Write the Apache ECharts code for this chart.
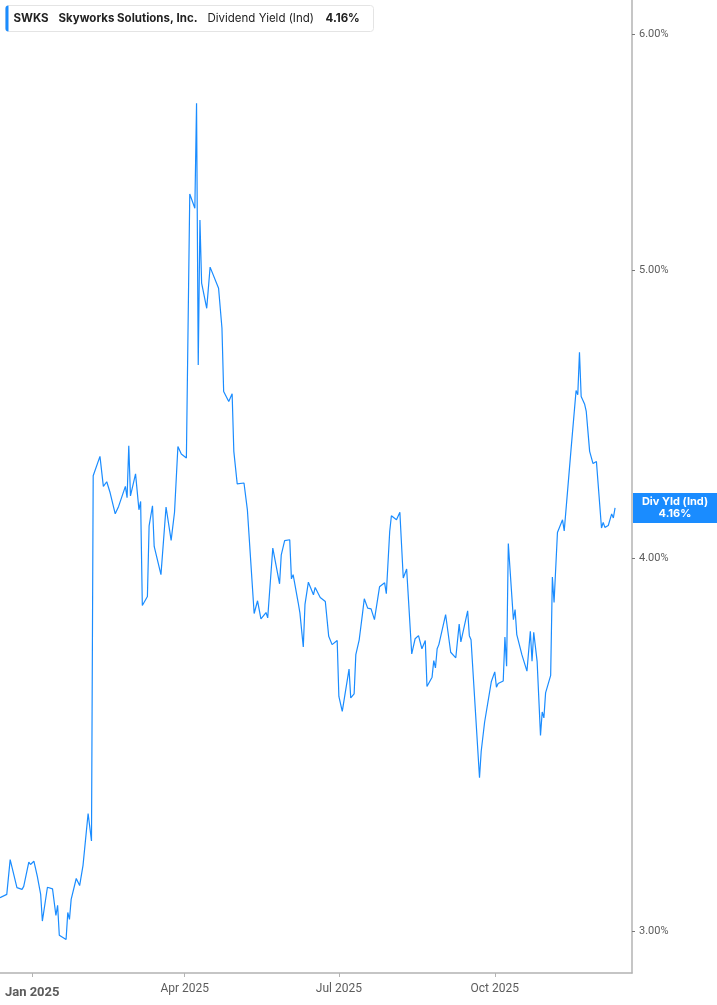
<!DOCTYPE html>
<html>
<head>
<meta charset="utf-8">
<script src="https://cdn.jsdelivr.net/npm/echarts@6/dist/echarts.min.js"></script>
<style>
  html, body { margin: 0; padding: 0; background: #fff; }
  #chart { width: 717px; height: 1005px; }
</style>
</head>
<body>
<div id="chart"></div>
<script>
// SWKS 股息率 (Ind) 数据
const dates = [
  '2024-12-13','2024-12-17','2024-12-19','2024-12-23','2024-12-26','2024-12-27','2024-12-30','2024-12-31',
  '2025-01-02','2025-01-04','2025-01-06','2025-01-07','2025-01-08','2025-01-10','2025-01-13','2025-01-15',
  '2025-01-16','2025-01-17','2025-01-21','2025-01-22','2025-01-23','2025-01-24','2025-01-27','2025-01-29',
  '2025-01-31','2025-02-03','2025-02-05','2025-02-06','2025-02-07','2025-02-10','2025-02-12','2025-02-14',
  '2025-02-16','2025-02-19','2025-02-21','2025-02-25','2025-02-26','2025-02-27','2025-02-28','2025-03-03',
  '2025-03-05','2025-03-06','2025-03-07','2025-03-10','2025-03-11','2025-03-13','2025-03-14','2025-03-18',
  '2025-03-21','2025-03-24','2025-03-26','2025-03-28','2025-03-30','2025-04-02','2025-04-04','2025-04-07',
  '2025-04-08','2025-04-09','2025-04-10','2025-04-11','2025-04-14','2025-04-16','2025-04-21','2025-04-23',
  '2025-04-24','2025-04-27','2025-04-29','2025-04-30','2025-05-02','2025-05-06','2025-05-08','2025-05-12',
  '2025-05-14','2025-05-16','2025-05-19','2025-05-20','2025-05-23','2025-05-27','2025-05-28','2025-05-30',
  '2025-06-02','2025-06-03','2025-06-04','2025-06-07','2025-06-08','2025-06-10','2025-06-11','2025-06-13',
  '2025-06-16','2025-06-17','2025-06-20','2025-06-23','2025-06-25','2025-06-27','2025-06-30','2025-07-01',
  '2025-07-03','2025-07-07','2025-07-08','2025-07-10','2025-07-11','2025-07-13','2025-07-15','2025-07-16',
  '2025-07-18','2025-07-20','2025-07-22','2025-07-25','2025-07-28','2025-07-29','2025-07-31','2025-08-01',
  '2025-08-04','2025-08-06','2025-08-08','2025-08-10','2025-08-13','2025-08-15','2025-08-17','2025-08-19',
  '2025-08-21','2025-08-22','2025-08-25','2025-08-26','2025-08-27','2025-08-28','2025-08-29','2025-09-02',
  '2025-09-05','2025-09-08','2025-09-10','2025-09-11','2025-09-15','2025-09-16','2025-09-17','2025-09-22',
  '2025-09-23','2025-09-25','2025-09-26','2025-09-29','2025-09-30','2025-10-01','2025-10-02','2025-10-03',
  '2025-10-06','2025-10-07','2025-10-08','2025-10-09','2025-10-12','2025-10-13','2025-10-14','2025-10-17',
  '2025-10-20','2025-10-22','2025-10-23','2025-10-24','2025-10-26','2025-10-28','2025-10-29','2025-10-30',
  '2025-10-31','2025-11-03','2025-11-04','2025-11-05','2025-11-07','2025-11-10','2025-11-11','2025-11-15',
  '2025-11-18','2025-11-19','2025-11-20','2025-11-21','2025-11-23','2025-11-24','2025-11-26','2025-11-28',
  '2025-11-30','2025-12-03','2025-12-04','2025-12-05','2025-12-07','2025-12-09','2025-12-10','2025-12-11'
];

const yields = [
  3.078, 3.086, 3.170, 3.102, 3.098, 3.105, 3.164, 3.158,
  3.166, 3.130, 3.086, 3.023, 3.023, 3.103, 3.099, 3.036,
  3.060, 2.990, 2.980, 3.043, 3.027, 3.074, 3.124, 3.107,
  3.156, 3.285, 3.216, 4.265, 4.263, 4.329, 4.230, 4.245,
  4.209, 4.141, 4.165, 4.230, 4.193, 4.365, 4.199, 4.271,
  4.154, 4.181, 3.858, 3.885, 4.103, 4.167, 4.038, 3.951,
  4.163, 4.057, 4.146, 4.362, 4.337, 4.324, 5.302, 5.244,
  5.687, 4.646, 5.197, 4.949, 4.854, 5.011, 4.930, 4.780,
  4.552, 4.517, 4.544, 4.346, 4.238, 4.241, 4.154, 3.834,
  3.872, 3.818, 3.837, 3.821, 4.033, 3.923, 4.012, 4.056,
  4.059, 3.938, 3.951, 3.866, 3.836, 3.736, 3.861, 3.928,
  3.890, 3.912, 3.882, 3.870, 3.767, 3.743, 3.755, 3.596,
  3.555, 3.673, 3.592, 3.603, 3.714, 3.757, 3.836, 3.878,
  3.850, 3.848, 3.816, 3.914, 3.926, 3.893, 4.085, 4.135,
  4.122, 4.146, 3.941, 3.968, 3.716, 3.760, 3.769, 3.731,
  3.755, 3.624, 3.650, 3.697, 3.676, 3.731, 3.743, 3.831,
  3.721, 3.705, 3.803, 3.751, 3.842, 3.769, 3.757, 3.377,
  3.447, 3.525, 3.523, 3.638, 3.643, 3.665, 3.622, 3.632,
  3.639, 3.765, 3.681, 4.047, 3.816, 3.846, 3.772, 3.714,
  3.667, 3.782, 3.695, 3.779, 3.695, 3.489, 3.553, 3.537,
  3.606, 3.655, 3.944, 3.867, 4.082, 4.122, 4.087, 4.351,
  4.555, 4.540, 4.692, 4.534, 4.508, 4.482, 4.346, 4.305,
  4.312, 4.096, 4.114, 4.098, 4.104, 4.141, 4.128, 4.160
];

// 坐标轴刻度
const xTickDates = ['2025-01-01', '2025-04-01', '2025-07-01', '2025-10-01'];
const yTickValues = [3, 4, 5, 6];
const monthNames = ['Jan','Feb','Mar','Apr','May','Jun','Jul','Aug','Sep','Oct','Nov','Dec'];

const lineColor = '#1a8cff';
const axisColor = '#b3b3b3';
const labelColor = '#5c5c5c';
const lastValue = yields[yields.length - 1];

// 日期转时间戳 (UTC)
function toTime(s) {
    const p = s.split('-');
    return Date.UTC(+p[0], +p[1] - 1, +p[2]);
}

const xTickTimes = xTickDates.map(toTime);

const chart = echarts.init(document.getElementById('chart'), null, { renderer: 'canvas' });

const option = {
    animation: false,
    grid: { left: 0, right: 85, top: 0, bottom: 32, containLabel: false },
    xAxis: {
        type: 'value',
        min: toTime('2024-12-13'),
        max: toTime('2025-12-21'),
        axisLine: { show: true, onZero: false, lineStyle: { color: axisColor, width: 1.5 } },
        axisTick: { show: true, customValues: xTickTimes, length: 4, lineStyle: { color: axisColor, width: 1 } },
        splitLine: { show: false },
        axisLabel: {
            customValues: xTickTimes,
            margin: 10,
            color: labelColor,
            fontFamily: 'Roboto',
            fontSize: 12,
            formatter: function (value) {
                const d = new Date(value);
                const txt = monthNames[d.getUTCMonth()] + ' ' + d.getUTCFullYear();
                return d.getUTCMonth() === 0 ? '{b|' + txt + '}' : txt;
            },
            rich: {
                b: { fontWeight: 'bold', fontSize: 13, color: labelColor, fontFamily: 'Roboto', padding: [3, 0, 0, 0] }
            }
        }
    },
    yAxis: {
        type: 'log',
        logBase: 10,
        position: 'right',
        min: 2.904,
        max: 6.16,
        axisLine: { show: true, lineStyle: { color: axisColor, width: 1.5 } },
        axisTick: { show: true, customValues: yTickValues, length: 3, lineStyle: { color: '#777' } },
        splitLine: { show: false },
        axisLabel: {
            customValues: yTickValues,
            margin: 7,
            color: labelColor,
            fontFamily: 'Roboto',
            fontSize: 11,
            formatter: v => Number(v).toFixed(2) + '%'
        }
    },
    series: [{
        type: 'line',
        showSymbol: false,
        symbol: 'none',
        data: dates.map((d, i) => [toTime(d), yields[i]]),
        lineStyle: { color: lineColor, width: 1.2 },
        itemStyle: { color: lineColor }
    }]
};

chart.setOption(option);

// 右侧数值标签 + 左上角图例
const lastY = chart.convertToPixel({ yAxisIndex: 0 }, lastValue);

const legendBold = { fontFamily: 'Inter', fontWeight: 'bold', fontSize: 11.5, fill: '#222', verticalAlign: 'middle' };
const legendNormal = { fontFamily: 'Inter', fontSize: 11.5, fill: '#222', verticalAlign: 'middle' };

chart.setOption({
    graphic: [
        {
            type: 'group',
            left: 5,
            top: 5,
            children: [
                { type: 'rect', shape: { x: 0, y: 0, width: 368, height: 26, r: 3 },
                  style: { fill: '#fff', stroke: '#e4e4e4', lineWidth: 1 } },
                { type: 'rect', shape: { x: 0, y: 0, width: 3, height: 26, r: [3, 0, 0, 3] },
                  style: { fill: lineColor } },
                { type: 'text', x: 8, y: 13, style: Object.assign({ text: 'SWKS' }, legendBold) },
                { type: 'text', x: 53, y: 13, style: Object.assign({ text: 'Skyworks Solutions, Inc.' }, legendBold) },
                { type: 'text', x: 202, y: 13, style: Object.assign({ text: 'Dividend Yield (Ind)' }, legendNormal) },
                { type: 'text', x: 320, y: 13, style: Object.assign({ text: lastValue.toFixed(2) + '%' }, legendBold) }
            ]
        },
        {
            type: 'group',
            x: 633,
            y: lastY - 15,
            children: [
                { type: 'rect', shape: { x: 0, y: 0, width: 84, height: 30 }, style: { fill: lineColor } },
                { type: 'text', x: 42, y: 15,
                  style: {
                      text: 'Div Yld (Ind)\n' + lastValue.toFixed(2) + '%',
                      align: 'center',
                      verticalAlign: 'middle',
                      lineHeight: 12,
                      fontFamily: 'Inter',
                      fontWeight: 'bold',
                      fontSize: 11,
                      fill: '#fff'
                  } }
            ]
        }
    ]
});
</script>
</body>
</html>
